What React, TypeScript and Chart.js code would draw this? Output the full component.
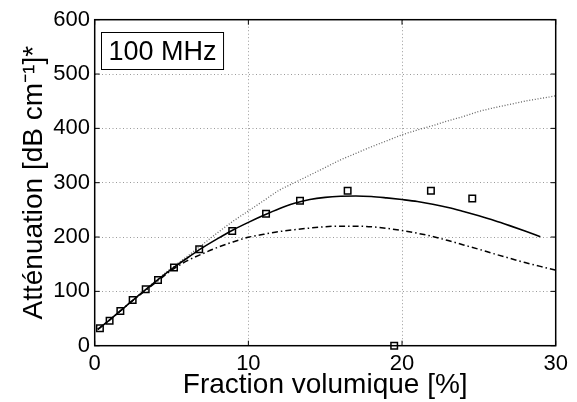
import React, { useEffect, useRef } from "react";
import { Chart, registerables } from "chart.js";

Chart.register(...registerables);

const xTicks = [0, 10, 20, 30];
const yTicks = [0, 100, 200, 300, 400, 500, 600];

const measX = [0.34, 0.97, 1.67, 2.47, 3.32, 4.12, 5.16, 6.8, 8.95, 11.15, 13.36, 16.46, 19.49, 21.88, 24.57];
const measY = [32, 46, 64, 84, 104, 121, 144, 177.5, 211, 243, 267, 285, 0, 285, 271];

const solidX = [0.2, 1, 2, 3, 4, 5, 6, 7, 8, 9, 10, 11, 12, 13, 14, 15, 16, 17, 18, 19, 20, 21, 22, 23, 24, 25, 26, 27, 28, 29];
const solidY = [30, 48, 72, 96, 119, 141, 161, 180, 197, 213, 227, 240, 252, 262, 269, 273, 275, 275.5, 274.5, 272, 269, 265.5, 260.5, 254.5, 247, 239, 230.5, 221, 211, 200.5];

const dashX = [0.2, 1, 2, 3, 4, 5, 6, 7, 8, 9, 10, 11, 12, 13, 14, 15, 16, 17, 18, 19, 20, 21, 22, 23, 24, 25, 26, 27, 28, 29, 30];
const dashY = [30, 48, 72, 95, 117, 139, 156, 169, 181, 191, 199.5, 205, 210, 213.5, 216.5, 219, 220, 220, 219, 216, 212, 207, 201, 193.5, 185.5, 177.5, 169, 161, 153, 146, 139];

const dotX = [0.2, 1, 2, 3, 4, 5, 6, 7, 8, 9, 10, 11, 12, 13, 14, 15, 16, 17, 18, 19, 20, 21, 22, 23, 24, 25, 26, 27, 28, 29, 30];
const dotY = [30, 48, 72, 96, 120, 143, 164, 186, 208, 229, 248, 267, 286, 300, 314, 328, 342, 354, 366, 377, 388, 397, 405, 414, 422, 431, 438, 444, 450, 455, 460];

const labelText = "100 MHz";
const xTitle = "Fraction volumique [%]";
const yTitle = "Atténuation [dB cm⁻¹]*";

const FONT = "'Liberation Sans', Arial, Helvetica, sans-serif";

const pts = (xs: number[], ys: number[]) => xs.map((x, i) => ({ x, y: ys[i] }));

const framePlugin = {
  id: "frame",
  afterDraw(chart: any) {
    const { ctx, chartArea: a, scales } = chart;
    ctx.save();
    ctx.strokeStyle = "#000";
    ctx.lineWidth = 1.5;
    ctx.setLineDash([]);
    ctx.strokeRect(a.left, a.top, a.right - a.left, a.bottom - a.top);
    const tl = 5;
    ctx.lineWidth = 1;
    ctx.beginPath();
    xTicks.forEach((v) => {
      const px = scales.x.getPixelForValue(v);
      ctx.moveTo(px, a.bottom);
      ctx.lineTo(px, a.bottom - tl);
      ctx.moveTo(px, a.top);
      ctx.lineTo(px, a.top + tl);
    });
    yTicks.forEach((v) => {
      const py = scales.y.getPixelForValue(v);
      ctx.moveTo(a.left, py);
      ctx.lineTo(a.left + tl, py);
      ctx.moveTo(a.right, py);
      ctx.lineTo(a.right - tl, py);
    });
    ctx.stroke();

    // annotation box
    const bx = Math.round(a.left + 6) + 0.5;
    const by = Math.round(a.top + 12) + 0.5;
    ctx.font = `27px ${FONT}`;
    const tw = ctx.measureText(labelText).width;
    const bw = tw + 14;
    const bh = 37;
    ctx.fillStyle = "#fff";
    ctx.fillRect(bx, by, bw, bh);
    ctx.strokeStyle = "#000";
    ctx.lineWidth = 1;
    ctx.strokeRect(bx, by, bw, bh);
    ctx.fillStyle = "#000";
    ctx.textBaseline = "alphabetic";
    ctx.textAlign = "left";
    ctx.fillText(labelText, bx + 7, by + 27.5);
    ctx.restore();
  },
};

export default function App() {
  const ref = useRef<HTMLCanvasElement | null>(null);
  useEffect(() => {
    if (!ref.current) return;
    Chart.defaults.font.family = FONT;
    const gridColor = "#9a9a9a";
    const chart = new Chart(ref.current, {
      type: "line",
      data: {
        datasets: [
          {
            type: "scatter",
            label: "mesures",
            data: pts(measX, measY),
            pointStyle: "rect",
            pointRadius: 4.6,
            pointBorderWidth: 1.5,
            pointBorderColor: "#000",
            pointBackgroundColor: "rgba(0,0,0,0)",
            showLine: false,
            clip: false as any,
          } as any,
          {
            label: "modèle",
            data: pts(solidX, solidY),
            borderColor: "#000",
            borderWidth: 1.6,
            pointRadius: 0,
            cubicInterpolationMode: "monotone",
          },
          {
            label: "modèle 2",
            data: pts(dashX, dashY),
            borderColor: "#000",
            borderWidth: 1.5,
            borderDash: [6, 3, 1.5, 3],
            pointRadius: 0,
            cubicInterpolationMode: "monotone",
          },
          {
            label: "modèle 3",
            data: pts(dotX, dotY),
            borderColor: "#666",
            borderWidth: 1.3,
            borderDash: [1, 1.8],
            pointRadius: 0,
            cubicInterpolationMode: "monotone",
          },
        ],
      },
      options: {
        animation: false,
        responsive: false,
        devicePixelRatio: 1,
        layout: { padding: { left: 0, top: 19.7, right: 21.3, bottom: 0 } },
        plugins: { legend: { display: false }, tooltip: { enabled: false } },
        scales: {
          x: {
            type: "linear",
            min: 0,
            max: 30,
            afterFit: (s: any) => {
              s.height = 56.3;
            },
            afterBuildTicks: (s: any) => {
              s.ticks = xTicks.map((v) => ({ value: v }));
            },
            ticks: { color: "#000", font: { size: 22 }, padding: 4.6, maxRotation: 0 },
            grid: { color: gridColor, lineWidth: 1, drawTicks: false },
            border: { display: false, dash: [1, 2.5] },
            title: {
              display: true,
              text: xTitle,
              color: "#000",
              font: { size: 28 },
              padding: { top: 0, bottom: 0 },
            },
          },
          y: {
            type: "linear",
            min: 0,
            max: 600,
            afterFit: (s: any) => {
              s.width = 94.7;
            },
            afterBuildTicks: (s: any) => {
              s.ticks = yTicks.map((v) => ({ value: v }));
            },
            ticks: { color: "#000", font: { size: 22 }, padding: 4.7 },
            grid: { color: gridColor, lineWidth: 1, drawTicks: false },
            border: { display: false, dash: [1, 2.5] },
            title: {
              display: true,
              text: yTitle,
              color: "#000",
              font: { size: 28 },
              padding: { top: 17.8, bottom: 0 },
            },
          },
        },
      },
      plugins: [framePlugin],
    });
    return () => chart.destroy();
  }, []);
  return (
    <div style={{ position: "absolute", left: 0, top: 0, width: 577, height: 402, background: "#fff" }}>
      <canvas ref={ref} width={577} height={402} style={{ display: "block" }} />
    </div>
  );
}
